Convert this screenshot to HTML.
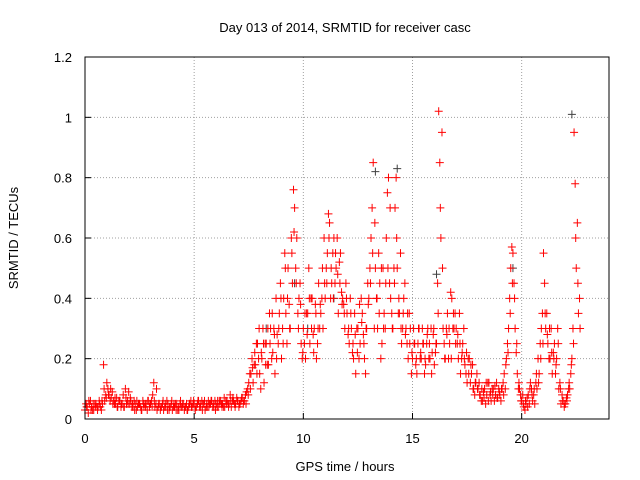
<!DOCTYPE html>
<html><head><meta charset="utf-8"><style>
body{margin:0;background:#fff;}
svg{display:block;font-family:"Liberation Sans",sans-serif;font-size:13px;}
</style></head><body>
<svg id="chart" width="640" height="480">
<text x="345" y="32" text-anchor="middle">Day 013 of 2014, SRMTID for receiver casc</text>
<text transform="translate(18,238) rotate(-90)" text-anchor="middle">SRMTID / TECUs</text>
<text x="345" y="471" text-anchor="middle">GPS time / hours</text>
<g id="grid"></g>
<g id="axes"></g>
<g id="marks"></g>
<rect x="85" y="57" width="524" height="362" fill="none" stroke="#000"/>
</svg>
<script>
const xTicks=[0,5,10,15,20];
const yTicks=[0,0.2,0.4,0.6,0.8,1,1.2];
const yTickLabels=["0","0.2","0.4","0.6","0.8","1","1.2"];
const seriesA=[.03,.04,.05,.04,.03,.05,.04,.04,.05,.06,
.12,.08,.07,.06,.05,.04,.06,.05,.04,.05,
.09,.06,.04,.05,.04,.05,.03,.04,.05,.06,
.05,.08,.04,.03,.05,.04,.03,.04,.05,.04,
.03,.04,.05,.03,.04,.05,.04,.03,.05,.04,
.05,.04,.06,.04,.05,.03,.04,.05,.06,.04,
.05,.04,.06,.05,.04,.06,.05,.04,.06,.05,
.06,.05,.07,.06,.09,.12,.15,.12,.18,.25,
.15,.2,.12,.25,.18,.3,.22,.15,.28,.35,
.2,.4,.35,.5,.3,.45,.7,.6,.4,.25,
.3,.2,.35,.25,.4,.3,.2,.45,.35,.3,
.4,.55,.65,.45,.6,.5,.35,.55,.4,.3,
.35,.25,.3,.2,.15,.3,.25,.35,.2,.3,
.4,.6,.85,.5,.3,.45,.25,.35,.6,.8,
.4,.3,.7,.5,.35,.25,.4,.3,.2,.3,
.2,.25,.15,.3,.2,.25,.18,.3,.2,.22,
.18,.25,1.02,.6,.3,.2,.35,.25,.4,.3,
.3,.2,.15,.25,.18,.12,.2,.15,.1,.12,
.1,.08,.06,.1,.08,.12,.06,.1,.08,.07,
.08,.1,.15,.2,.3,.5,.55,.3,.15,.1,
.06,.04,.05,.08,.12,.06,.05,.1,.15,.3,
.55,.3,.25,.2,.15,.25,.2,.1,.05,.06,
.05,.08,.1,.2,.95,.5,.35];
const seriesB=[.05,.02,.06,.03,.05,.04,.06,.03,.18,.08,
.1,.06,.09,.05,.07,.06,.04,.08,.1,.06,
.05,.04,.06,.03,.05,.04,.06,.05,.03,.04,
.06,.12,.05,.04,.03,.05,.04,.06,.03,.05,
.04,.05,.03,.05,.04,.03,.05,.04,.06,.05,
.03,.05,.04,.06,.05,.04,.06,.05,.04,.06,
.04,.06,.05,.04,.06,.05,.08,.06,.05,.07,
.04,.06,.05,.08,.1,.15,.2,.18,.25,.2,
.1,.3,.25,.18,.35,.2,.3,.4,.25,.45,
.3,.55,.25,.38,.6,.76,.5,.35,.45,.2,
.25,.35,.5,.4,.28,.38,.25,.3,.4,.6,
.5,.68,.4,.55,.45,.6,.52,.42,.38,.45,
.28,.4,.22,.35,.3,.2,.4,.28,.15,.45,
.5,.7,.3,.4,.55,.2,.5,.3,.75,.45,
.35,.5,.8,.35,.55,.3,.45,.25,.35,.15,
.3,.18,.25,.2,.3,.15,.25,.2,.3,.28,
.22,.45,.85,.95,.25,.3,.2,.42,.3,.35,
.25,.35,.2,.3,.15,.2,.12,.18,.08,.15,
.12,.06,.09,.05,.12,.08,.1,.06,.12,.1,
.06,.12,.1,.25,.4,.57,.45,.22,.1,.08,
.08,.03,.07,.05,.1,.08,.12,.2,.25,.35,
.45,.35,.2,.3,.22,.15,.3,.12,.08,.04,
.07,.1,.15,.3,.78,.65,.4];
const seriesC=[.04,.06,.03,.05,.04,.03,.05,.06,.1,.07,
.08,.1,.05,.07,.04,.06,.05,.04,.07,.05,
.07,.05,.03,.06,.05,.03,.05,.04,.06,.05,
.04,.06,.1,.05,.04,.06,.05,.03,.04,.06,
.05,.03,.04,.06,.05,.04,.03,.05,.04,.06,
.04,.06,.05,.03,.06,.05,.04,.06,.05,.03,
.06,.05,.04,.07,.05,.04,.06,.07,.04,.06,
.05,.07,.06,.05,.08,.1,.17,.22,.15,.3,
.22,.25,.18,.3,.25,.35,.28,.2,.3,.4,
.25,.5,.4,.3,.55,.62,.45,.3,.38,.22,
.35,.28,.4,.3,.22,.35,.3,.38,.5,.45,
.45,.6,.5,.4,.55,.48,.45,.38,.35,.4,
.3,.35,.25,.28,.22,.38,.32,.25,.3,.38,
.45,.55,.65,.4,.35,.5,.3,.45,.5,.7,
.3,.45,.6,.4,.3,.35,.28,.35,.25,.22,
.25,.2,.3,.22,.25,.2,.28,.25,.15,.3,
.25,.35,.7,.5,.2,.28,.3,.2,.35,.25,
.28,.25,.22,.2,.22,.15,.18,.1,.12,.1,
.08,.1,.07,.12,.06,.09,.08,.11,.07,.09,
.1,.08,.18,.22,.35,.45,.4,.25,.12,.06,
.05,.06,.04,.1,.08,.1,.15,.12,.2,.25,
.35,.28,.3,.22,.2,.18,.25,.1,.06,.05,
.06,.12,.18,.25,.6,.45,.3];
const greyTimes=[9.6,10.2,11.4,13.3,14.3,16.1,22.3,19.6,8.3];
const greyValues=[0.45,0.3,0.4,0.82,0.83,0.48,1.01,0.5,0.3];
const NS="http://www.w3.org/2000/svg";
const X=t=>85+t*(524/24);
const Y=v=>419-v*(362/1.2);
const grid=document.getElementById('grid'),axes=document.getElementById('axes'),marks=document.getElementById('marks');
function mk(tag,attrs,parent){const e=document.createElementNS(NS,tag);for(const k in attrs)e.setAttribute(k,attrs[k]);parent.appendChild(e);return e;}
xTicks.forEach(t=>{
 if(t>0){const g=mk('line',{x1:X(t),x2:X(t),y1:57,y2:419,stroke:'#a0a0a0','stroke-dasharray':'1,2'},grid);
 
 }
 const tk=mk('line',{x1:X(t),x2:X(t),y1:419,y2:413,stroke:'#000'},axes);
 
 
 const lb=mk('text',{x:X(t),y:443,'text-anchor':'middle'},axes);lb.textContent=t;
 
 
});
yTicks.forEach((v,i)=>{
 if(v>0&&v<1.2){const g=mk('line',{x1:85,x2:609,y1:Y(v),y2:Y(v),stroke:'#a0a0a0','stroke-dasharray':'1,2'},grid);
 
 }
 const tk=mk('line',{x1:85,x2:91,y1:Y(v),y2:Y(v),stroke:'#000'},axes);
 
 
 const lb=mk('text',{x:72,y:Y(v)+5,'text-anchor':'end'},axes);lb.textContent=yTickLabels[i];
 
 
});
function plus(t,v,color){
 const x=X(t),y=Y(v);
 const p=mk('path',{d:`M${x-4},${y}h8M${x},${y-4}v8`,stroke:color,'stroke-width':1,fill:'none'},marks);
 
 
}
greyTimes.forEach((t,i)=>plus(t,greyValues[i],'#404040'));
seriesA.forEach((v,i)=>plus(i*0.1,v,'#ff0000'));
seriesB.forEach((v,i)=>plus(i*0.1+0.05,v,'#ff0000'));
seriesC.forEach((v,i)=>plus(i*0.1+0.075,v,'#ff0000'));
</script>
</body></html>
